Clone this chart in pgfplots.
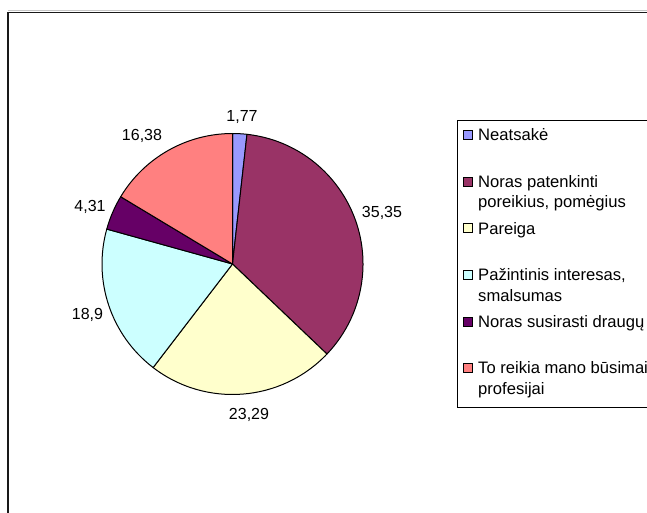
\documentclass[border=0pt]{standalone}
\usepackage{fontspec}
\setmainfont{Liberation Sans}
\usepackage{pgfplots}
\usepackage{pgfplotstable}
\pgfplotsset{compat=1.18}
\definecolor{cA}{HTML}{9999FF}
\definecolor{cB}{HTML}{993366}
\definecolor{cC}{HTML}{FFFFCC}
\definecolor{cD}{HTML}{CCFFFF}
\definecolor{cE}{HTML}{660066}
\definecolor{cF}{HTML}{FF8080}
\pgfplotstableread{
val col
1.77 cA
35.35 cB
23.29 cC
18.9 cD
4.31 cE
16.38 cF
}\piedata
\begin{document}
\begin{tikzpicture}
\path[use as bounding box] (0,0) rectangle (647pt,512pt);
\clip (0,0) rectangle (647pt,512pt);
\begin{axis}[at={(0pt,0pt)}, anchor=south west, scale only axis,
  width=647pt, height=512pt, xmin=0, xmax=647, ymin=0, ymax=512,
  hide axis, clip=false, font=\fontsize{16}{19}\selectfont]
% frame
\draw[gray!45, line width=1pt] (axis cs:8,501.2) -- (axis cs:680,501.2);
\draw[black!90, line width=1.6pt] (axis cs:8,-20) -- (axis cs:8,499.5) -- (axis cs:680,499.5);
% pie slices
\def\cum{0}
\pgfplotsforeachungrouped \i in {0,...,5}{%
  \pgfplotstablegetelem{\i}{val}\of\piedata \let\v\pgfplotsretval
  \pgfplotstablegetelem{\i}{col}\of\piedata \let\c\pgfplotsretval
  \pgfmathsetmacro\a{90-3.6*\cum}%
  \pgfmathsetmacro\b{90-3.6*(\cum+\v)}%
  \edef\cmd{\noexpand\filldraw[fill=\c, draw=black, line width=1pt, line join=round] (axis cs:232.5,248) -- ++(\a:130.5pt) arc[start angle=\a, end angle=\b, radius=130.5pt] -- cycle;}%
  \cmd
  \pgfmathsetmacro\cum{\cum+\v}%
}
% data labels
\node[anchor=base, inner sep=0] at (axis cs:242,390.4) {1,77};
\node[anchor=base, inner sep=0] at (axis cs:382,294.4) {35,35};
\node[anchor=base, inner sep=0] at (axis cs:249,92.4) {23,29};
\node[anchor=base, inner sep=0] at (axis cs:87.5,192.4) {18,9};
\node[anchor=base, inner sep=0] at (axis cs:90,300.4) {4,31};
\node[anchor=base, inner sep=0] at (axis cs:142,371.9) {16,38};
% legend
\draw[black, line width=0.9pt] (axis cs:457,392) rectangle (axis cs:720,105);
\filldraw[fill=cA, draw=black, line width=0.6pt] (axis cs:463,372.5) rectangle (axis cs:472,381.5);
\filldraw[fill=cB, draw=black, line width=0.6pt] (axis cs:463,325.9) rectangle (axis cs:472,334.9);
\filldraw[fill=cC, draw=black, line width=0.6pt] (axis cs:463,279.3) rectangle (axis cs:472,288.3);
\filldraw[fill=cD, draw=black, line width=0.6pt] (axis cs:463,232.7) rectangle (axis cs:472,241.7);
\filldraw[fill=cE, draw=black, line width=0.6pt] (axis cs:463,186.1) rectangle (axis cs:472,195.1);
\filldraw[fill=cF, draw=black, line width=0.6pt] (axis cs:463,139.5) rectangle (axis cs:472,148.5);
\begin{scope}[font=\fontsize{16.6}{20}\selectfont]
\node[anchor=base west, inner sep=0] at (axis cs:478,371.2) {Neatsakė};
\node[anchor=base west, inner sep=0] at (axis cs:478,324.6) {Noras patenkinti};
\node[anchor=base west, inner sep=0] at (axis cs:478,304.1) {poreikius, pomėgius};
\node[anchor=base west, inner sep=0] at (axis cs:478,278.0) {Pareiga};
\node[anchor=base west, inner sep=0] at (axis cs:478,231.4) {Pažintinis interesas,};
\node[anchor=base west, inner sep=0] at (axis cs:478,210.9) {smalsumas};
\node[anchor=base west, inner sep=0] at (axis cs:478,184.8) {Noras susirasti draugų};
\node[anchor=base west, inner sep=0] at (axis cs:478,138.2) {To reikia mano būsimai};
\node[anchor=base west, inner sep=0] at (axis cs:478,117.7) {profesijai};
\end{scope}
\end{axis}
\end{tikzpicture}
\end{document}
